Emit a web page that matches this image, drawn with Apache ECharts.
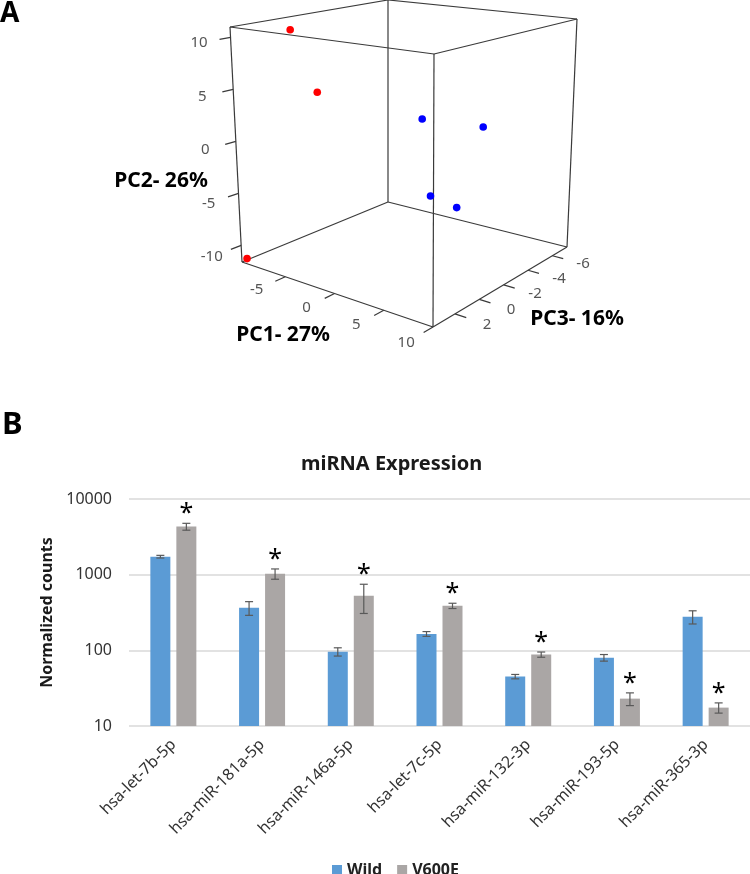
<!DOCTYPE html>
<html><head><meta charset="utf-8">
<script src="https://cdn.jsdelivr.net/npm/echarts@6/dist/echarts.min.js"></script>
<style>html,body{margin:0;padding:0;background:#fff}#c{width:750px;height:874px}</style>
</head><body><div id="c"></div>
<script>
// ---------- Panel A data (PCA) ----------
const pc1Range = [-9.4, 10];     // left -> right
const pc2Range = [-11.6, 11];    // bottom -> top
const pc3Range = [3.8, -7.2];    // front -> back
const pc1Ticks = [-5, 0, 5, 10];
const pc2Ticks = [10, 5, 0, -5, -10];
const pc3Ticks = [2, 0, -2, -4, -6];
const redPoints = [[-9.0, -11.2, 3.7], [-5.9, 10.8, 2.15], [-5.7, 4.3, 0.5]];
const bluePoints = [[1.8, 2.2, -1.7], [7.25, 2.15, -2.25], [3.4, -4.5, -1.15], [7.5, -4.1, -0.05]];
const pcNames = ['PC1- 27%', 'PC2- 26%', 'PC3- 16%'];

// ---------- Panel B data ----------
const categories = ['hsa-let-7b-5p', 'hsa-miR-181a-5p', 'hsa-miR-146a-5p', 'hsa-let-7c-5p', 'hsa-miR-132-3p', 'hsa-miR-193-5p', 'hsa-miR-365-3p'];
const wildMean = [1730, 365, 96, 165, 45, 80, 278];
const wildErr = [70, 75, 12, 12, 3, 8, 55];
const v600eMean = [4320, 1030, 527, 388, 88, 23, 17.5];
const v600eErr = [450, 160, 220, 31, 7, 4.4, 2.7];
const v600eSig = [1, 1, 1, 1, 1, 1, 1];
const seriesNames = ['Wild', 'V600E'];
const yTicks = [10, 100, 1000, 10000];

// ---------- Projection of the PCA box (layout of the 3D frame on screen) ----------
const FONT = 'Noto Sans';
const boxFront = [[242, 262], [433, 327], [230, 27], [434, 54]]; // bl, br, tl, tr
const boxBack = [[388, 202], [567, 247], [388, 0], [577, 19]];
function bil(c, u, v) {
  return [
    (1 - u) * (1 - v) * c[0][0] + u * (1 - v) * c[1][0] + (1 - u) * v * c[2][0] + u * v * c[3][0],
    (1 - u) * (1 - v) * c[0][1] + u * (1 - v) * c[1][1] + (1 - u) * v * c[2][1] + u * v * c[3][1]
  ];
}
function proj(p) {
  const u = (p[0] - pc1Range[0]) / (pc1Range[1] - pc1Range[0]);
  const v = (p[1] - pc2Range[0]) / (pc2Range[1] - pc2Range[0]);
  const w = (p[2] - pc3Range[0]) / (pc3Range[1] - pc3Range[0]);
  const F = bil(boxFront, u, v), B = bil(boxBack, u, v);
  return [(1 - w) * F[0] + w * B[0], (1 - w) * F[1] + w * B[1]];
}
function p1At(t) { return pc1Range[0] + t * (pc1Range[1] - pc1Range[0]); }
function p3At(t) { return pc3Range[0] + t * (pc3Range[1] - pc3Range[0]); }

const boxEdges = [];
(function () {
  const xs = pc1Range, ys = pc2Range, zs = pc3Range;
  for (const y of ys) for (const z of zs) boxEdges.push([[xs[0], y, z], [xs[1], y, z]]);
  for (const x of xs) for (const z of zs) boxEdges.push([[x, ys[0], z], [x, ys[1], z]]);
  for (const x of xs) for (const y of ys) boxEdges.push([[x, y, zs[0]], [x, y, zs[1]]]);
})();

const tickDefs = [];
pc1Ticks.forEach(t => tickDefs.push([[t, pc2Range[0], pc3Range[0]], [t, pc2Range[0], p3At(-0.07)], [t, pc2Range[0], p3At(-0.2)], String(t)]));
pc2Ticks.forEach(t => tickDefs.push([[pc1Range[0], t, pc3Range[0]], [pc1Range[0], t, p3At(-0.07)], [pc1Range[0], t, p3At(-0.2)], String(t)]));
pc3Ticks.forEach(t => tickDefs.push([[pc1Range[1], pc2Range[0], t], [p1At(1.06), pc2Range[0], t], [p1At(1.17), pc2Range[0], t], String(t)]));

const chart = echarts.init(document.getElementById('c'), null, { renderer: 'canvas' });

const errData = [];
categories.forEach((c, i) => {
  errData.push([i, wildMean[i], wildErr[i], 0, 0]);
  errData.push([i, v600eMean[i], v600eErr[i], 1, v600eSig[i]]);
});

const option = {
  animation: false,
  backgroundColor: '#fff',
  textStyle: { fontFamily: FONT },
  title: {
    text: 'miRNA Expression', left: 296, top: 449,
    textStyle: { fontFamily: FONT, fontWeight: 'bold', fontSize: 20, color: '#1a1a1a' }
  },
  legend: {
    data: seriesNames, left: 327, top: 857, icon: 'rect', itemWidth: 10, itemHeight: 10, itemGap: 15,
    textStyle: { fontFamily: FONT, fontWeight: 'bold', fontSize: 16, color: '#222' }
  },
  grid: [
    { left: 0, top: 0, width: 750, height: 360, show: false },
    { left: 129, right: 0, top: 499, bottom: 148, show: false }
  ],
  xAxis: [
    { gridIndex: 0, type: 'value', min: 0, max: 750, show: false },
    {
      gridIndex: 1, type: 'category', data: categories,
      axisLine: { show: false }, axisTick: { show: false },
      axisLabel: { rotate: 45, fontSize: 16, color: '#333', margin: 16, fontFamily: FONT, interval: 0 }
    }
  ],
  yAxis: [
    { gridIndex: 0, type: 'value', min: 0, max: 360, inverse: true, show: false },
    {
      gridIndex: 1, type: 'log', logBase: 10, min: yTicks[0], max: yTicks[yTicks.length - 1],
      axisLine: { show: false }, axisTick: { show: false },
      splitLine: { show: true, lineStyle: { color: '#d9d9d9', width: 1.5 } },
      axisLabel: { fontSize: 16, color: '#333', margin: 17, fontFamily: FONT, formatter: v => String(Math.round(v)) },
      name: 'Normalized counts', nameLocation: 'middle', nameRotate: 90, nameGap: 66,
      nameTextStyle: { fontFamily: FONT, fontWeight: 'bold', fontSize: 16, color: '#1a1a1a' }
    }
  ],
  graphic: [
    { type: 'text', left: 0, top: 0, style: { text: 'A', font: 'bold 28px "Noto Sans"', fill: '#000' } },
    { type: 'text', left: 2, top: 410, style: { text: 'B', font: 'bold 31px "Noto Sans"', fill: '#000' } },
    { type: 'text', x: 161, y: 181, style: { text: pcNames[1], font: 'bold 21px "Noto Sans"', fill: '#000', align: 'center', verticalAlign: 'middle' } },
    { type: 'text', x: 283, y: 335, style: { text: pcNames[0], font: 'bold 21px "Noto Sans"', fill: '#000', align: 'center', verticalAlign: 'middle' } },
    { type: 'text', x: 577, y: 319, style: { text: pcNames[2], font: 'bold 21px "Noto Sans"', fill: '#000', align: 'center', verticalAlign: 'middle' } }
  ],
  series: [
    {
      type: 'custom', name: 'box', xAxisIndex: 0, yAxisIndex: 0, silent: true, clip: false,
      data: boxEdges.map((e, i) => [i]),
      renderItem(params, api) {
        const e = boxEdges[params.dataIndex];
        const a = api.coord(proj(e[0])), b = api.coord(proj(e[1]));
        return { type: 'line', shape: { x1: a[0], y1: a[1], x2: b[0], y2: b[1] }, style: { stroke: '#3a3a3a', lineWidth: 1.2 } };
      }
    },
    {
      type: 'custom', name: 'ticks', xAxisIndex: 0, yAxisIndex: 0, silent: true, clip: false,
      data: tickDefs.map((t, i) => [i]),
      renderItem(params, api) {
        const t = tickDefs[params.dataIndex];
        const a = api.coord(proj(t[0])), b = api.coord(proj(t[1])), l = api.coord(proj(t[2]));
        return {
          type: 'group', children: [
            { type: 'line', shape: { x1: a[0], y1: a[1], x2: b[0], y2: b[1] }, style: { stroke: '#3a3a3a', lineWidth: 1.2 } },
            { type: 'text', x: l[0], y: l[1], style: { text: t[3], font: '15px "Noto Sans"', fill: '#555', align: 'center', verticalAlign: 'middle' } }
          ]
        };
      }
    },
    {
      type: 'custom', name: 'red group', xAxisIndex: 0, yAxisIndex: 0, silent: true, clip: false,
      data: redPoints,
      renderItem(params, api) {
        const p = api.coord(proj([api.value(0), api.value(1), api.value(2)]));
        return { type: 'circle', shape: { cx: p[0], cy: p[1], r: 3.8 }, style: { fill: '#ff0000' } };
      }
    },
    {
      type: 'custom', name: 'blue group', xAxisIndex: 0, yAxisIndex: 0, silent: true, clip: false,
      data: bluePoints,
      renderItem(params, api) {
        const p = api.coord(proj([api.value(0), api.value(1), api.value(2)]));
        return { type: 'circle', shape: { cx: p[0], cy: p[1], r: 3.8 }, style: { fill: '#0000ff' } };
      }
    },
    {
      type: 'bar', name: seriesNames[0], xAxisIndex: 1, yAxisIndex: 1, data: wildMean,
      barWidth: 20, barGap: '30%', itemStyle: { color: '#5b9bd5' }
    },
    {
      type: 'bar', name: seriesNames[1], xAxisIndex: 1, yAxisIndex: 1, data: v600eMean,
      barWidth: 20, barGap: '30%', itemStyle: { color: '#aaa6a5' }
    },
    {
      type: 'custom', name: 'errors', xAxisIndex: 1, yAxisIndex: 1, silent: true, z: 5,
      encode: { x: 0, y: 1 },
      data: errData,
      renderItem(params, api) {
        const ci = api.value(0), m = api.value(1), e = api.value(2), g = api.value(3), s = api.value(4);
        const off = (g === 0 ? -1 : 1) * 13;
        const top = api.coord([ci, m + e]);
        const bot = api.coord([ci, Math.max(m - e, 10.0001)]);
        const x = top[0] + off;
        const st = { stroke: '#595959', lineWidth: 1.2 };
        const ch = [
          { type: 'line', shape: { x1: x, y1: top[1], x2: x, y2: bot[1] }, style: st },
          { type: 'line', shape: { x1: x - 4, y1: top[1], x2: x + 4, y2: top[1] }, style: st },
          { type: 'line', shape: { x1: x - 4, y1: bot[1], x2: x + 4, y2: bot[1] }, style: st }
        ];
        if (s) ch.push({ type: 'text', x: x, y: top[1] - 9, style: { text: '*', font: '25px "Noto Sans"', fill: '#000', align: 'center', verticalAlign: 'middle' } });
        return { type: 'group', children: ch };
      }
    }
  ]
};
chart.setOption(option);
</script>
</body></html>
